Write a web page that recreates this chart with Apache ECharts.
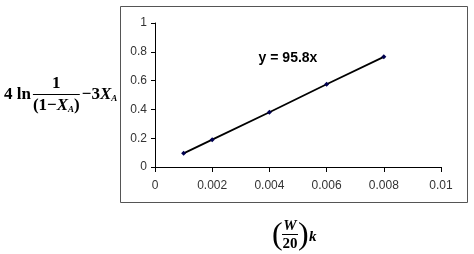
<!DOCTYPE html>
<html>
<head>
<meta charset="utf-8">
<script src="https://cdn.jsdelivr.net/npm/echarts@6/dist/echarts.min.js"></script>
<style>
html,body{margin:0;padding:0;background:#fff;}
#main{width:474px;height:254px;}
</style>
</head>
<body>
<div id="main"></div>
<script>
// ---- data ----
var xValues = [0.001, 0.002, 0.004, 0.006, 0.008];
var yValues = [0.095, 0.19, 0.38, 0.575, 0.765];
var xTicks = ['0', '0.002', '0.004', '0.006', '0.008', '0.01'];
var yTicks = ['0', '0.2', '0.4', '0.6', '0.8', '1'];
var equationText = 'y = 95.8x';

var seriesData = xValues.map(function (x, i) { return [x, yValues[i]]; });

var SERIF = '"Liberation Serif", "Times New Roman", serif';
var SANS = '"Liberation Sans", Arial, sans-serif';

var ctx = document.createElement('canvas').getContext('2d');
function w(text, font) { ctx.font = font; return ctx.measureText(text).width; }

// build a run of text pieces left to right
function run(pieces, x, y) {
  var out = [];
  var cx = x;
  pieces.forEach(function (p) {
    var font = (p.style || '') + ' ' + (p.weight || 'bold') + ' ' + p.size + 'px ' + SERIF;
    out.push({
      type: 'text', x: cx, y: y + (p.dy || 0),
      style: { text: p.t, font: font, fill: '#000', textAlign: 'left', textVerticalAlign: 'middle' }
    });
    cx += w(p.t, font) + (p.gap || 0);
  });
  return { els: out, end: cx };
}

var gElems = [];
// outer frame
gElems.push({ type: 'rect', shape: { x: 120.5, y: 6.5, width: 347, height: 196 },
  style: { fill: null, stroke: '#555', lineWidth: 1 } });

// y-axis title: 4 ln 1/((1-X_A)) - 3X_A
var FS = 17;
var r1 = run([{ t: '4 ln', size: FS }], 4, 95);
gElems = gElems.concat(r1.els);
var denom = [
  { t: '(1\u2212', size: FS },
  { t: 'X', size: FS, style: 'italic' },
  { t: 'A', size: 9, style: 'italic', dy: 4 },
  { t: ')', size: FS }
];
var dStart = r1.end + 2;
var rd = run(denom, dStart, 106);
gElems = gElems.concat(rd.els);
var fracMid = (dStart + rd.end) / 2;
gElems.push({ type: 'text', x: fracMid, y: 84,
  style: { text: '1', font: 'bold ' + FS + 'px ' + SERIF, fill: '#000', textAlign: 'center', textVerticalAlign: 'middle' } });
gElems.push({ type: 'line', shape: { x1: dStart, y1: 94.5, x2: rd.end, y2: 94.5 },
  style: { stroke: '#000', lineWidth: 1 } });
var r3 = run([
  { t: '\u22123', size: FS },
  { t: 'X', size: FS, style: 'italic' },
  { t: 'A', size: 9, style: 'italic', dy: 4 }
], rd.end + 2, 95);
gElems = gElems.concat(r3.els);

// x-axis title: (W/20) k
gElems.push({ type: 'text', x: 272, y: 236,
  style: { text: '(', font: 'normal 32px ' + SERIF, fill: '#000', textAlign: 'left', textVerticalAlign: 'middle' } });
gElems.push({ type: 'text', x: 290, y: 226,
  style: { text: 'W', font: 'italic bold 15px ' + SERIF, fill: '#000', textAlign: 'center', textVerticalAlign: 'middle' } });
gElems.push({ type: 'line', shape: { x1: 282, y1: 234.5, x2: 298, y2: 234.5 },
  style: { stroke: '#000', lineWidth: 1 } });
gElems.push({ type: 'text', x: 290, y: 244,
  style: { text: '20', font: 'bold 15px ' + SERIF, fill: '#000', textAlign: 'center', textVerticalAlign: 'middle' } });
gElems.push({ type: 'text', x: 298, y: 236,
  style: { text: ')', font: 'normal 32px ' + SERIF, fill: '#000', textAlign: 'left', textVerticalAlign: 'middle' } });
gElems.push({ type: 'text', x: 309, y: 237,
  style: { text: 'k', font: 'italic bold 15px ' + SERIF, fill: '#000', textAlign: 'left', textVerticalAlign: 'middle' } });

// trendline equation
gElems.push({ type: 'text', x: 288, y: 58,
  style: { text: equationText, font: 'bold 14px ' + SANS, fill: '#000', textAlign: 'center', textVerticalAlign: 'middle' } });

function fmt(list, step) {
  return function (v) {
    var idx = Math.round(v / step);
    return list[idx] !== undefined ? list[idx] : '';
  };
}

var chart = echarts.init(document.getElementById('main'), null, { renderer: 'canvas' });
chart.setOption({
  animation: false,
  backgroundColor: '#fff',
  grid: { left: 155, top: 23, right: 33, bottom: 87, containLabel: false },
  xAxis: {
    type: 'value', min: 0, max: 0.01, interval: 0.002,
    axisLine: { show: true, onZero: false, lineStyle: { color: '#000', width: 1 } },
    axisTick: { show: true, inside: false, length: 5, lineStyle: { color: '#000' } },
    splitLine: { show: false },
    axisLabel: { formatter: fmt(xTicks, 0.002), color: '#333', fontFamily: SANS, fontSize: 12, margin: 13 }
  },
  yAxis: {
    type: 'value', min: 0, max: 1, interval: 0.2,
    axisLine: { show: true, onZero: false, lineStyle: { color: '#000', width: 1 } },
    axisTick: { show: true, inside: false, length: 4, lineStyle: { color: '#000' } },
    splitLine: { show: false },
    axisLabel: { formatter: fmt(yTicks, 0.2), color: '#333', fontFamily: SANS, fontSize: 12, margin: 8 }
  },
  series: [{
    type: 'line',
    data: seriesData,
    symbol: 'diamond',
    symbolSize: 5,
    showSymbol: true,
    lineStyle: { color: '#000', width: 1.8 },
    itemStyle: { color: '#000050' },
    z: 3
  }],
  graphic: { elements: gElems }
});
</script>
</body>
</html>
